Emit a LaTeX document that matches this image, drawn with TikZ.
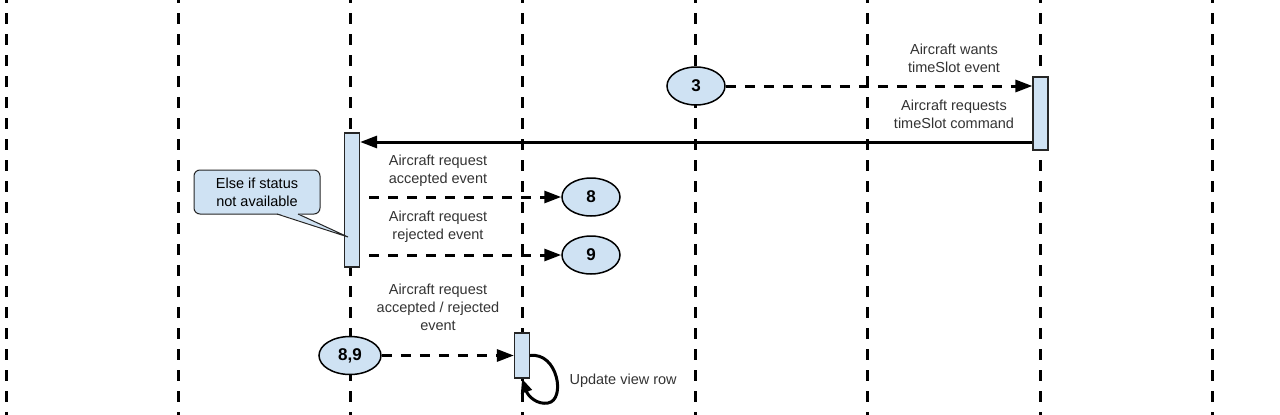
\documentclass[tikz,border=0pt]{standalone}
\usepackage{fontspec}
\setmainfont{Liberation Sans}
\usetikzlibrary{arrows.meta,shapes.geometric}
\definecolor{lblue}{HTML}{CFE2F3}
\begin{document}
\begin{tikzpicture}[x=1pt,y=-1pt,
  lifeline/.style={line width=3pt, dash pattern=on 11pt off 10pt, dash phase=4pt},
  msg/.style={line width=3pt, -{Triangle[length=17pt,width=12pt]}},
  dmsg/.style={msg, dash pattern=on 10pt off 9pt},
  actbox/.style={draw=black!85, line width=1.2pt, fill=lblue, minimum width=15pt, inner sep=0pt},
  evt/.style={ellipse, draw, line width=1.5pt, fill=lblue, minimum width=58pt, minimum height=38pt, inner sep=0pt, font=\fontsize{17}{20}\selectfont\bfseries},
  lbl/.style={align=center, font=\fontsize{14.5}{18}\selectfont, text=black!80}]
\useasboundingbox (0,0) rectangle (1280,415);
% lifelines
\foreach \x in {6,178,350,522,695,867,1040,1212}
  \draw[lifeline] (\x,-4) -- (\x,420);
% activation boxes
\node[actbox, minimum height=73pt] (b1) at (1040.5,113.5) {};
\node[actbox, minimum height=134pt] (b2) at (352,200) {};
\node[actbox, minimum height=45pt] (b3) at (522,355.5) {};
% events
\node[evt] (e3) at (696,86) {3};
\node[evt] (e8) at (591,197) {8};
\node[evt] (e9) at (591,255) {9};
\node[evt, minimum width=62pt] (e89) at (350,355.5) {8,9};
% helper coordinates
\coordinate (y142) at (0,142);
% messages
\draw[dmsg] (e3.east) -- (e3.east -| b1.west);
\draw[msg] (b1.west |- y142) -- (b2.east |- y142);
\draw[dmsg, dash phase=10pt] (b2.east |- e8) -- (e8.west);
\draw[dmsg, dash phase=10pt] (b2.east |- e9) -- (e9.west);
\draw[dmsg] (e89.east) -- (e89.east -| b3.west);
\draw[line width=3pt, -{Triangle[length=14pt,width=11pt]}]
  (b3.east) .. controls (558,352) and (566,400) .. (548,403)
  .. controls (537,405) and (528,396) .. (b3.south);
% labels
\node[lbl] (l1) at (954,58) {Aircraft wants\\timeSlot event};
\node[lbl] (l2) at (954,114) {Aircraft requests\\timeSlot command};
\node[lbl] (l3) at (438,171) {Aircraft request\\accepted event};
\node[lbl] (l4) at (438,227) {Aircraft request\\rejected event};
\node[lbl] (l5) at (438,307) {Aircraft request\\accepted / rejected\\event};
\node[lbl, anchor=west] (l6) at (566,381) {Update view row};
% callout
\draw[draw=black!85, line width=1pt, fill=lblue, rounded corners=6pt] (194,170) rectangle (320,214);
\fill[lblue] (277,213.2) -- (298,213.2) -- (348,237) -- cycle;
\draw[draw=black!85, line width=1pt, line join=miter] (277,214) -- (348,237) -- (298,214);
\node[lbl, text=black] (note) at (257,192) {Else if status\\not available};
\end{tikzpicture}
\end{document}
